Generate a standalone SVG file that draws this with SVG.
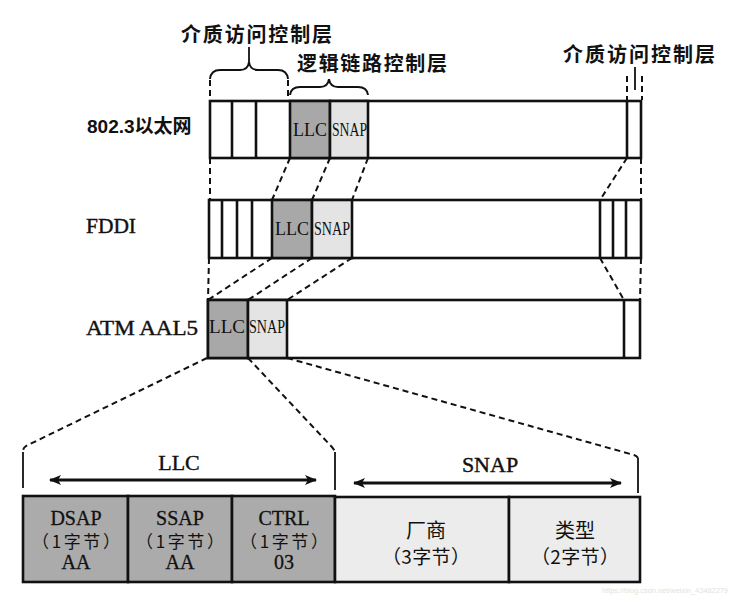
<svg xmlns="http://www.w3.org/2000/svg" width="739" height="601" viewBox="0 0 739 601">
<defs>
<style>
.box{fill:#fff;stroke:#111;stroke-width:2.6}
.llc{fill:#a8a8a8;stroke:#111;stroke-width:2.6}
.snap{fill:#e4e4e4;stroke:#111;stroke-width:2.6}
.bllc{fill:#ababab;stroke:#111;stroke-width:2.6}
.bsnap{fill:#ececec;stroke:#111;stroke-width:2.6}
.div{stroke:#111;stroke-width:2.6;fill:none}
.dash{stroke:#111;stroke-width:2;stroke-dasharray:6 4;fill:none}
.tick{stroke:#111;stroke-width:1.8;fill:none}
.brace{stroke:#111;stroke-width:2;fill:none}
.cjk{font-family:"Noto Sans CJK SC","Noto Sans",sans-serif;font-weight:700;font-size:20px;fill:#111}
.lab{font-family:"Liberation Sans","Noto Sans CJK SC",sans-serif;font-weight:700;font-size:19px;fill:#111}
.ser{font-family:"Liberation Serif","Noto Sans CJK SC",serif;font-size:20px;fill:#111;stroke:#111;stroke-width:0.4}
.big{font-size:22px}
.in{font-family:"Liberation Serif",serif;font-size:19px;fill:#111}
.cell{font-family:"Liberation Serif","Noto Sans CJK SC",serif;font-size:20px;fill:#111;text-anchor:middle;stroke:#111;stroke-width:0.3}
.cellc{font-family:"Noto Sans CJK SC",serif;font-size:17px;fill:#111;text-anchor:middle}
.cellb{font-size:20px}
.cellm{font-size:19px}
.wm{font-family:"Liberation Sans",sans-serif;font-size:7px;fill:#e2e2e2}
</style>
<marker id="ah" viewBox="0 0 12 10" refX="11" refY="5" markerWidth="12" markerHeight="10" markerUnits="userSpaceOnUse" orient="auto-start-reverse">
<path d="M0,0 L12,5 L0,10 L3,5 Z" fill="#111"/>
</marker>
</defs>

<g id="labels-top">
<text class="cjk" x="181" y="42" textLength="151">介质访问控制层</text>
<text class="cjk" x="297" y="71" textLength="150">逻辑链路控制层</text>
<text class="cjk" x="563" y="62" textLength="152">介质访问控制层</text>
<path class="brace" d="M210,79 Q211,70 220,70 L240,70 Q248,70 249,62 Q250,70 258,70 L278,70 Q287,70 288,79"/>
<line class="tick" x1="249" y1="47" x2="249" y2="64"/>
<path class="brace" d="M290,95 Q291,87 300,87 L320,87 Q328,87 329,79 Q330,87 338,87 L358,87 Q367,87 368,95"/>
<line class="tick" x1="635" y1="67" x2="635" y2="90"/>
<line class="dash" x1="210" y1="80" x2="210" y2="100"/>
<line class="dash" x1="288" y1="80" x2="288" y2="100"/>
<line class="dash" x1="627" y1="76" x2="627" y2="100"/>
<line class="dash" x1="642" y1="76" x2="642" y2="100"/>
</g>

<g id="row-8023">
<text class="lab" x="87" y="133">802.3以太网</text>
<rect class="box" x="210" y="101" width="431" height="57"/>
<line class="div" x1="232" y1="101" x2="232" y2="158"/>
<line class="div" x1="256" y1="101" x2="256" y2="158"/>
<rect class="llc" x="290" y="101" width="40" height="57"/>
<rect class="snap" x="330" y="101" width="38" height="57"/>
<line class="div" x1="627" y1="101" x2="627" y2="158"/>
<text class="in" x="293" y="136" textLength="34" lengthAdjust="spacingAndGlyphs">LLC</text>
<text class="in" x="332" y="136" textLength="35" lengthAdjust="spacingAndGlyphs">SNAP</text>
</g>

<g id="row-fddi">
<text class="ser" x="86" y="233" textLength="50" lengthAdjust="spacingAndGlyphs">FDDI</text>
<rect class="box" x="209" y="200" width="432" height="58"/>
<line class="div" x1="222" y1="200" x2="222" y2="258"/>
<line class="div" x1="237" y1="200" x2="237" y2="258"/>
<line class="div" x1="252" y1="200" x2="252" y2="258"/>
<rect class="llc" x="272" y="200" width="40" height="58"/>
<rect class="snap" x="312" y="200" width="40" height="58"/>
<line class="div" x1="600" y1="200" x2="600" y2="258"/>
<line class="div" x1="613" y1="200" x2="613" y2="258"/>
<line class="div" x1="626" y1="200" x2="626" y2="258"/>
<text class="in" x="275" y="235" textLength="34" lengthAdjust="spacingAndGlyphs">LLC</text>
<text class="in" x="314" y="235" textLength="36" lengthAdjust="spacingAndGlyphs">SNAP</text>
</g>

<g id="row-atm">
<text class="ser" x="86" y="335" textLength="112" lengthAdjust="spacingAndGlyphs">ATM AAL5</text>
<rect class="box" x="208" y="300" width="432" height="58"/>
<rect class="llc" x="208" y="300" width="40" height="58"/>
<rect class="snap" x="248" y="300" width="39" height="58"/>
<line class="div" x1="624" y1="300" x2="624" y2="358"/>
<text class="in" x="209" y="333" textLength="36" lengthAdjust="spacingAndGlyphs">LLC</text>
<text class="in" x="249" y="333" textLength="36" lengthAdjust="spacingAndGlyphs">SNAP</text>
</g>

<g id="connectors">
<line class="dash" x1="210" y1="158" x2="210" y2="200"/>
<line class="dash" x1="290" y1="158" x2="272" y2="200"/>
<line class="dash" x1="330" y1="158" x2="312" y2="200"/>
<line class="dash" x1="368" y1="158" x2="352" y2="200"/>
<line class="dash" x1="627" y1="158" x2="600" y2="200"/>
<line class="dash" x1="641" y1="158" x2="641" y2="200"/>
<line class="dash" x1="209" y1="258" x2="208" y2="300"/>
<line class="dash" x1="272" y1="258" x2="208" y2="300"/>
<line class="dash" x1="312" y1="258" x2="248" y2="300"/>
<line class="dash" x1="352" y1="258" x2="287" y2="300"/>
<line class="dash" x1="600" y1="258" x2="624" y2="300"/>
<line class="dash" x1="641" y1="258" x2="640" y2="300"/>
<path class="dash" d="M207,358 L26,446 Q23,448 23,451"/>
<path class="dash" d="M248,358 L331,446 Q334,449 335,452"/>
<path class="dash" d="M287,358 L634,455 Q637,456 638,458"/>
<line class="tick" x1="23" y1="452" x2="23" y2="488"/>
<line class="tick" x1="335" y1="452" x2="335" y2="490"/>
<line class="tick" x1="638" y1="458" x2="638" y2="493"/>
<line x1="50" y1="480" x2="316" y2="480" stroke="#111" stroke-width="3" marker-start="url(#ah)" marker-end="url(#ah)"/>
<line x1="354" y1="483" x2="621" y2="483" stroke="#111" stroke-width="3" marker-start="url(#ah)" marker-end="url(#ah)"/>
<text class="ser big" x="179" y="470" text-anchor="middle">LLC</text>
<text class="ser big" x="490" y="472" text-anchor="middle">SNAP</text>
</g>

<g id="llc-fields">
<rect class="bllc" x="23" y="496" width="105" height="86"/>
<rect class="bllc" x="128" y="496" width="104" height="86"/>
<rect class="bllc" x="232" y="496" width="103" height="86"/>
<text class="cell" x="76" y="525">DSAP</text>
<text class="cellc" x="76" y="548" textLength="88">（1字节）</text>
<text class="cell" x="76" y="569">AA</text>
<text class="cell" x="180" y="525">SSAP</text>
<text class="cellc" x="180" y="548" textLength="88">（1字节）</text>
<text class="cell" x="180" y="569">AA</text>
<text class="cell" x="284" y="525">CTRL</text>
<text class="cellc" x="284" y="548" textLength="88">（1字节）</text>
<text class="cell" x="284" y="569">03</text>
</g>

<g id="snap-fields">
<rect class="bsnap" x="335" y="497" width="174" height="85"/>
<rect class="bsnap" x="509" y="497" width="131" height="85"/>
<text class="cellc cellb" x="426" y="538">厂商</text>
<text class="cellc cellm" x="426" y="564" textLength="88">（3字节）</text>
<text class="cellc cellb" x="575" y="538">类型</text>
<text class="cellc cellm" x="575" y="564" textLength="88">（2字节）</text>
</g>

<text class="wm" x="602" y="593" textLength="126" lengthAdjust="spacingAndGlyphs">https://blog.csdn.net/weixin_43482279</text>
</svg>
